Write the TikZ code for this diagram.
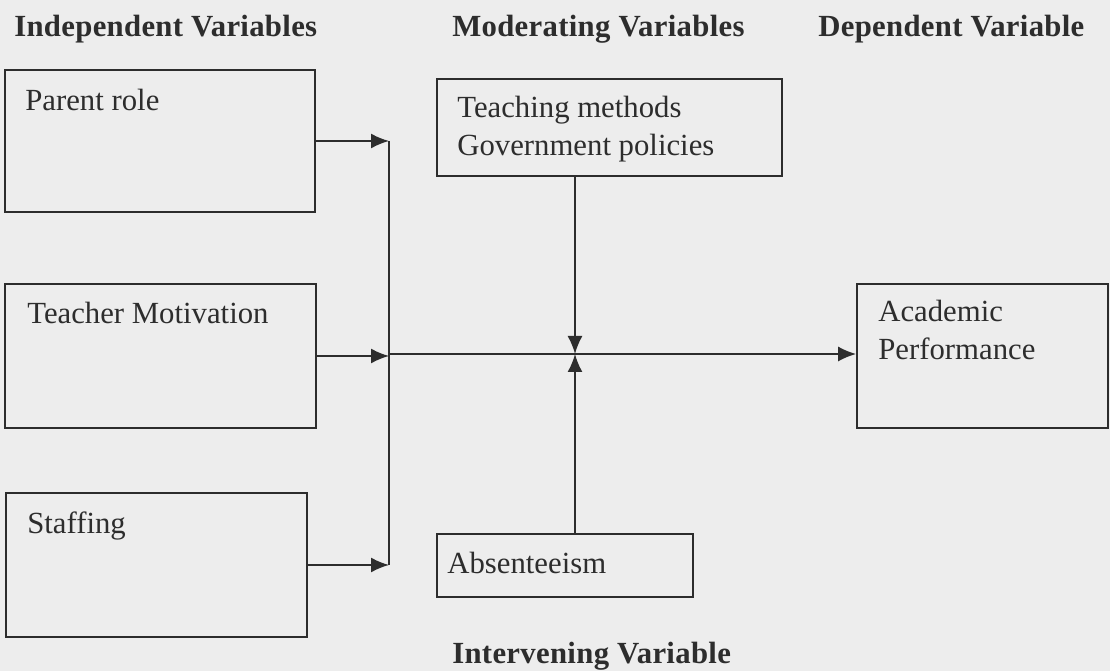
\documentclass[tikz,border=0pt]{standalone}
\usepackage{fontspec}
\setmainfont{Liberation Serif}
\usetikzlibrary{arrows.meta}
\definecolor{paper}{RGB}{237,237,237}
\definecolor{ink}{RGB}{45,45,45}
\tikzset{
	varbox/.style={draw=ink, line width=1pt, inner sep=0pt},
	boxtext/.style={anchor=north west, inner sep=0pt, align=left, text=ink,
		font=\fontsize{17.5}{21.5}\selectfont},
	heading/.style={anchor=west, inner sep=0pt, text=ink,
		font=\fontsize{17.5}{21}\addfontfeatures{LetterSpace=1}\bfseries},
	flow/.style={draw=ink, line width=1pt, ->, >={Latex[length=3.6mm,width=3mm]}},
	wire/.style={draw=ink, line width=1pt}
}
\begin{document}
\begin{tikzpicture}[x=0.02cm,y=-0.02cm]	%units are pixels of the scan
	\fill[paper] (0,0) rectangle (1110,671);
	\useasboundingbox (0,0) rectangle (1110,671);
	
	%headings
	\node[heading] (hind) at (14,29) {Independent Variables};
	\node[heading] (hmod) at (452,29) {Moderating Variables};
	\node[heading] (hdep) at (818,29) {Dependent Variable};
	\node[heading] (hint) at (452,656) {Intervening Variable};
	
	%Independent
	\node[varbox, minimum width=6.2cm, minimum height=2.84cm] (parent) at (160,141) {};
	\node[boxtext] at (25,89) {Parent role};
	\node[varbox, minimum width=6.22cm, minimum height=2.88cm] (motiv) at (160.5,356) {};
	\node[boxtext] at (27,302) {Teacher Motivation};
	\node[varbox, minimum width=6.02cm, minimum height=2.88cm] (staff) at (156.5,565) {};
	\node[boxtext] at (27,512) {Staffing};
	
	%Moderating
	\node[varbox, minimum width=6.9cm, minimum height=1.94cm] (moder) at (609.5,127.5) {};
	\node[boxtext] at (457,96) {Teaching methods\\Government policies};
	
	%Intervening
	\node[varbox, minimum width=5.12cm, minimum height=1.26cm] (absent) at (565,565.5) {};
	\node[boxtext] at (447,552) {Absenteeism};
	
	%Dependent
	\node[varbox, minimum width=5.02cm, minimum height=2.88cm] (perf) at (982.5,356) {};
	\node[boxtext] at (878,300) {Academic\\Performance};
	
	%junctions
	\coordinate (bus) at (389,354);
	\coordinate (hub) at (575,354);
	
	%arrows into the bus
	\draw[wire] (bus |- parent.east) -- (bus |- staff.east);
	\draw[flow] (parent.east) -- (parent.east -| bus);
	\draw[flow] (motiv.east) -- (motiv.east -| bus);
	\draw[flow] (staff.east) -- (staff.east -| bus);
	
	%main line and the two side arrows
	\draw[flow] (bus) -- (bus -| perf.west);
	\draw[flow] (hub |- moder.south) -- (hub);
	\draw[flow] (hub |- absent.north) -- (hub);
\end{tikzpicture}
\end{document}
